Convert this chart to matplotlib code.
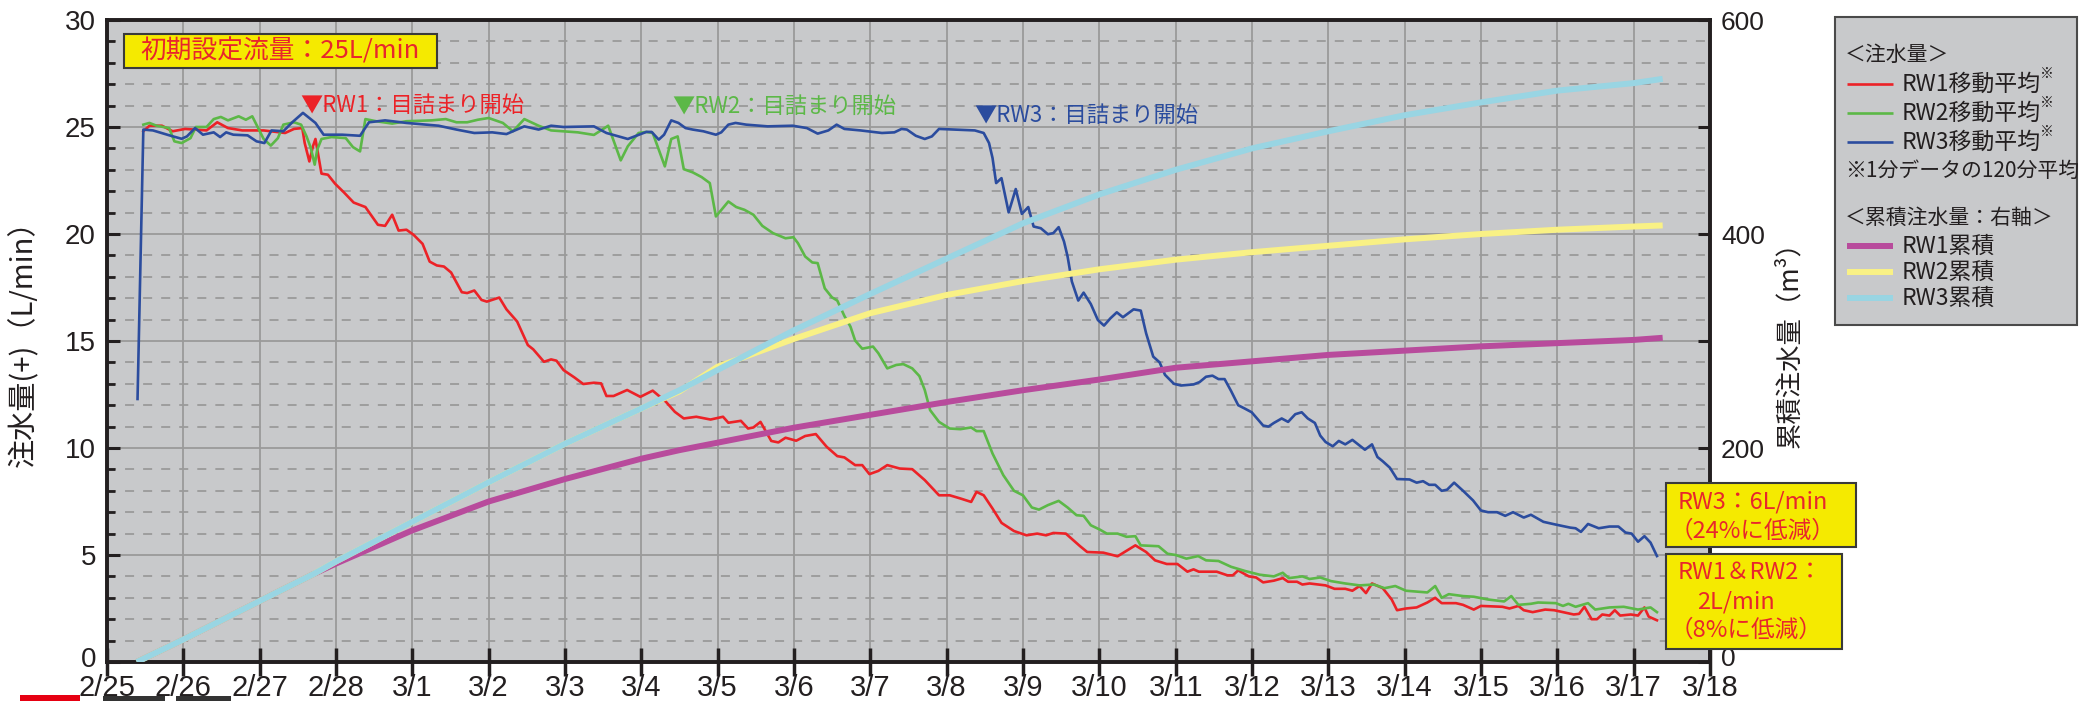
import matplotlib
matplotlib.use('Agg')
import matplotlib.pyplot as plt
import matplotlib.transforms as mtransforms
from matplotlib.patches import Rectangle
from matplotlib.lines import Line2D

plt.rcParams['font.family'] = ['Noto Sans CJK JP', 'DejaVu Sans']

# x = days since 2/25 00:00
date_labels = ['2/25', '2/26', '2/27', '2/28', '3/1', '3/2', '3/3', '3/4', '3/5', '3/6', '3/7',
               '3/8', '3/9', '3/10', '3/11', '3/12', '3/13', '3/14', '3/15', '3/16', '3/17', '3/18']

# moving average flow (L/min)
rw1_day = [0.476, 0.556, 0.719, 0.860, 1.023, 1.304, 1.444, 1.585, 1.772, 2.052, 2.333, 2.450, 2.558, 2.590,
           2.651, 2.698, 2.731, 2.763, 2.810, 2.894, 2.988, 3.105, 3.231, 3.385, 3.549, 3.643, 3.736, 3.820,
           3.923, 4.017, 4.134, 4.227, 4.321, 4.414, 4.508, 4.648, 4.718, 4.812, 4.906, 4.976, 5.139, 5.233,
           5.373, 5.513, 5.584, 5.724, 5.818, 5.888, 5.981, 6.122, 6.239, 6.379, 6.473, 6.543, 6.636, 6.814,
           6.987, 7.149, 7.322, 7.439, 7.556, 7.720, 7.907, 8.070, 8.140, 8.304, 8.398, 8.468, 8.561, 8.702,
           8.795, 8.889, 9.029, 9.146, 9.286, 9.427, 9.567, 9.660, 9.801, 9.894, 9.988, 10.105, 10.222, 10.386,
           10.549, 10.713, 10.900, 11.040, 11.181, 11.321, 11.391, 11.485, 11.601, 11.719, 11.882, 12.046,
           12.186, 12.303, 12.397, 12.561, 12.748, 12.841, 13.052, 13.239, 13.472, 13.613, 13.730, 13.883,
           14.023, 14.154, 14.234, 14.304, 14.538, 14.678, 14.748, 14.819, 14.959, 15.053, 15.146, 15.286,
           15.403, 15.473, 15.590, 15.660, 15.754, 15.964, 16.081, 16.222, 16.315, 16.409, 16.493, 16.572,
           16.713, 16.830, 16.900, 17.017, 17.157, 17.297, 17.400, 17.485, 17.672, 17.765, 17.905, 17.999,
           18.280, 18.373, 18.490, 18.560, 18.677, 18.841, 18.958, 19.215, 19.285, 19.355, 19.449, 19.519,
           19.589, 19.683, 19.753, 19.823, 19.963, 20.057, 20.141, 20.197, 20.305]
rw1_flow = [24.8, 25.06, 25.06, 24.80, 24.91, 24.84, 25.22, 24.95, 24.84, 24.84, 24.72, 24.91, 24.95, 24.25,
            23.39, 24.10, 24.44, 23.78, 22.82, 22.77, 22.35, 21.94, 21.47, 21.26, 20.43, 20.38, 20.90, 20.16,
            20.20, 19.96, 19.54, 18.71, 18.53, 18.48, 18.20, 17.28, 17.24, 17.36, 16.92, 16.84, 17.03, 16.48,
            15.91, 14.81, 14.61, 14.03, 14.14, 14.08, 13.64, 13.30, 12.99, 13.05, 13.02, 12.43, 12.43, 12.71,
            12.39, 12.68, 12.16, 11.69, 11.38, 11.46, 11.33, 11.46, 11.18, 11.27, 10.91, 10.96, 11.22, 10.33,
            10.26, 10.48, 10.34, 10.56, 10.65, 10.06, 9.62, 9.56, 9.20, 9.20, 8.78, 8.93, 9.20, 9.04,
            9.01, 8.50, 7.79, 7.79, 7.64, 7.48, 7.95, 7.79, 7.17, 6.50, 6.12, 5.92,
            6.00, 5.92, 6.03, 6.00, 5.41, 5.14, 5.11, 4.94, 5.45, 5.14, 4.75, 4.58,
            4.58, 4.22, 4.33, 4.22, 4.22, 4.05, 4.05, 4.28, 4.00, 3.95, 3.72, 3.80,
            3.92, 3.75, 3.75, 3.62, 3.67, 3.58, 3.42, 3.42, 3.33, 3.55, 3.22, 3.67,
            3.45, 2.92, 2.42, 2.50, 2.55, 2.78, 3.00, 2.75, 2.75, 2.67, 2.45, 2.62,
            2.58, 2.50, 2.62, 2.42, 2.33, 2.45, 2.42, 2.22, 2.25, 2.58, 2.00, 2.00,
            2.22, 2.17, 2.42, 2.17, 2.22, 2.17, 2.55, 2.12, 1.95]

rw2_day = [0.476, 0.556, 0.649, 0.813, 0.883, 0.977, 1.094, 1.164, 1.304, 1.398, 1.491, 1.585, 1.725, 1.819,
           1.903, 2.052, 2.146, 2.239, 2.310, 2.450, 2.543, 2.614, 2.670, 2.721, 2.754, 2.810, 2.941, 3.128,
           3.222, 3.315, 3.385, 3.525, 3.736, 3.923, 4.251, 4.438, 4.578, 4.718, 4.859, 4.999, 5.186, 5.317,
           5.467, 5.654, 5.818, 5.981, 6.168, 6.379, 6.566, 6.730, 6.823, 6.964, 7.065, 7.149, 7.308, 7.392,
           7.476, 7.556, 7.673, 7.790, 7.897, 7.977, 8.140, 8.243, 8.351, 8.468, 8.585, 8.725, 8.889, 8.992,
           9.052, 9.146, 9.240, 9.310, 9.403, 9.497, 9.567, 9.660, 9.740, 9.801, 9.894, 10.035, 10.105, 10.222,
           10.339, 10.432, 10.549, 10.643, 10.713, 10.783, 10.900, 11.040, 11.181, 11.321, 11.391, 11.485,
           11.601, 11.742, 11.882, 11.999, 12.116, 12.209, 12.326, 12.467, 12.584, 12.701, 12.794, 12.888,
           13.005, 13.098, 13.239, 13.356, 13.472, 13.542, 13.776, 13.893, 14.000, 14.140, 14.295, 14.398,
           14.561, 14.725, 14.912, 15.099, 15.286, 15.403, 15.483, 15.660, 15.754, 15.894, 16.035, 16.222,
           16.409, 16.596, 16.736, 16.877, 17.017, 17.297, 17.400, 17.485, 17.578, 17.765, 17.905, 18.093,
           18.303, 18.397, 18.490, 18.654, 18.748, 18.981, 19.074, 19.145, 19.239, 19.402, 19.496, 19.683,
           19.870, 20.057, 20.221, 20.305]
rw2_flow = [25.11, 25.19, 25.06, 24.95, 24.33, 24.25, 24.48, 25.00, 25.00, 25.37, 25.47, 25.31, 25.50, 25.34,
            25.50, 24.44, 24.13, 24.48, 25.11, 25.22, 25.11, 24.56, 24.02, 23.24, 23.94, 24.44, 24.53, 24.48,
            24.06, 23.86, 25.37, 25.27, 25.16, 25.27, 25.31, 25.37, 25.22, 25.22, 25.34, 25.42, 25.19, 24.80,
            25.37, 25.06, 24.84, 24.80, 24.75, 24.63, 25.06, 23.44, 24.10, 24.72, 24.77, 24.72, 23.16, 24.44,
            24.56, 23.03, 22.88, 22.66, 22.38, 20.82, 21.52, 21.26, 21.13, 20.90, 20.38, 20.04, 19.80, 19.85,
            19.57, 18.95, 18.67, 18.64, 17.46, 17.04, 16.89, 16.17, 15.67, 15.02, 14.64, 14.74, 14.43, 13.72,
            13.88, 13.92, 13.72, 13.36, 12.71, 11.77, 11.22, 10.91, 10.88, 10.96, 10.79, 10.79,
            9.74, 8.73, 8.00, 7.79, 7.22, 7.12, 7.33, 7.53, 7.22, 6.86, 6.83, 6.39,
            6.19, 6.00, 6.00, 5.85, 5.88, 5.45, 5.41, 5.06, 5.00, 4.83, 4.95, 4.75,
            4.72, 4.45, 4.25, 4.08, 4.00, 4.17, 3.92, 4.00, 3.88, 3.95, 3.78, 3.67,
            3.58, 3.62, 3.45, 3.55, 3.33, 3.25, 3.55, 3.00, 3.17, 3.08, 3.05, 2.92,
            2.83, 3.08, 2.67, 2.72, 2.78, 2.75, 2.62, 2.72, 2.58, 2.75, 2.45, 2.55,
            2.58, 2.45, 2.55, 2.33]

rw3_day = [0.400, 0.476, 0.602, 0.836, 0.977, 1.047, 1.154, 1.257, 1.398, 1.482, 1.561, 1.655, 1.842, 1.959,
           2.062, 2.155, 2.310, 2.427, 2.567, 2.731, 2.838, 3.081, 3.315, 3.432, 3.643, 3.923, 4.344, 4.578,
           4.812, 5.046, 5.233, 5.467, 5.654, 5.818, 5.981, 6.379, 6.543, 6.823, 6.971, 7.065, 7.135, 7.228,
           7.298, 7.392, 7.486, 7.579, 7.673, 7.813, 7.977, 8.047, 8.140, 8.234, 8.374, 8.655, 8.982, 9.169,
           9.310, 9.450, 9.558, 9.660, 9.871, 10.152, 10.315, 10.409, 10.479, 10.596, 10.713, 10.806, 10.900,
           11.087, 11.368, 11.485, 11.555, 11.601, 11.648, 11.718, 11.812, 11.905, 11.985, 12.069, 12.139,
           12.233, 12.326, 12.397, 12.467, 12.537, 12.584, 12.640, 12.724, 12.794, 12.888, 12.981, 13.061,
           13.145, 13.229, 13.309, 13.449, 13.543, 13.613, 13.706, 13.790, 13.860, 13.977, 14.070, 14.234,
           14.313, 14.398, 14.482, 14.561, 14.641, 14.725, 14.819, 14.912, 14.996, 15.146, 15.216, 15.286,
           15.389, 15.473, 15.567, 15.651, 15.731, 15.824, 15.894, 15.964, 16.058, 16.137, 16.222, 16.315,
           16.479, 16.572, 16.643, 16.713, 16.806, 16.900, 17.064, 17.157, 17.241, 17.321, 17.400, 17.485,
           17.555, 17.648, 17.765, 17.896, 17.999, 18.093, 18.210, 18.317, 18.420, 18.560, 18.654, 18.818,
           18.981, 19.168, 19.239, 19.309, 19.402, 19.542, 19.683, 19.800, 19.893, 19.973, 20.057, 20.141,
           20.221, 20.305]
rw3_flow = [12.29, 24.88, 24.84, 24.59, 24.45, 24.56, 24.95, 24.64, 24.75, 24.53, 24.75, 24.64, 24.61, 24.33,
            24.25, 24.84, 24.80, 25.22, 25.66, 25.19, 24.64, 24.64, 24.59, 25.22, 25.31, 25.19, 25.06, 24.88,
            24.72, 24.75, 24.67, 25.03, 24.88, 25.06, 25.00, 25.03, 24.72, 24.44, 24.64, 24.77, 24.77, 24.41,
            24.64, 25.31, 25.19, 24.95, 24.88, 24.80, 24.64, 24.75, 25.11, 25.19, 25.11, 25.03, 25.06, 24.95,
            24.69, 24.84, 25.11, 24.91, 24.84, 24.72, 24.75, 24.91, 24.88, 24.59, 24.44, 24.56, 24.91,
            24.88, 24.84, 24.72, 24.25, 23.55, 22.38, 22.61, 21.01, 22.10, 20.94, 21.26, 20.35,
            20.27, 19.99, 20.04, 20.32, 19.65, 18.95, 17.78, 16.89, 17.26, 16.73, 15.98, 15.72,
            16.06, 16.34, 16.11, 16.48, 16.42, 15.36, 14.27, 14.00, 13.42, 13.00, 12.92, 12.97,
            13.08, 13.33, 13.38, 13.22, 13.22, 12.67, 12.00, 11.83, 11.67, 11.05, 11.00, 11.17,
            11.38, 11.22, 11.58, 11.67, 11.38, 11.17, 10.58, 10.28, 10.08, 10.33, 10.17, 10.38,
            9.92, 10.17, 9.58, 9.38, 9.08, 8.55, 8.53, 8.38, 8.45, 8.28, 8.28, 8.00,
            8.05, 8.38, 8.00, 7.55, 7.08, 7.00, 7.00, 6.83, 7.00, 6.75, 6.88, 6.55,
            6.42, 6.28, 6.25, 6.08, 6.45, 6.25, 6.33, 6.33, 6.05, 6.00, 5.62, 5.88,
            5.58, 4.95]

# cumulative injection (m3), right axis
cum_day = [0.39, 1.0, 2.0, 2.7, 3.0, 4.0, 5.0, 6.0, 7.0, 7.5, 8.0, 9.0, 10.0, 11.0, 12.0,
           13.0, 14.0, 15.0, 16.0, 17.0, 18.0, 19.0, 20.0, 20.38]
rw1_cum = [0, 21, 57, 82, 92, 123, 150, 171, 190, 198, 205, 219, 231, 243, 254,
           264, 275, 281, 287, 291, 295, 298, 301, 303]
rw2_cum = [0, 21, 57, 82, 94, 131, 168, 204, 237, 253, 276, 302, 326, 343, 356,
           367, 376, 383, 389, 395, 400, 404, 407, 408]
rw3_cum = [0, 21, 57, 82, 94, 131, 168, 204, 237, 254, 273, 310, 344, 377, 410,
           437, 460, 480, 496, 511, 523, 534, 541, 545]

left_ticks = [0, 5, 10, 15, 20, 25, 30]
right_ticks = [0, 100, 200, 300, 400, 500, 600]
right_labels = ['0', '', '200', '', '400', '', '600']

RED = '#ec2227'
GREEN = '#5cb847'
BLUE = '#2b4c9e'
MAGENTA = '#b84b9c'
YELLOW = '#f9f185'
CYAN = '#99d5e3'
BG = '#c8c9cb'
GRIDC = '#9a9a9a'
DARK = '#231f20'
BOXY = '#f5ea00'
TXTR = '#e8262c'

W, H = 2087, 701
fig = plt.figure(figsize=(W / 100, H / 100), dpi=100)
ax = fig.add_axes([107 / W, 1 - 662 / H, (1710 - 107) / W, (662 - 20) / H])
ax.set_facecolor(BG)
ax2 = ax.twinx()


def px(x, y):
    return x / W, 1 - y / H


ax.plot(rw1_day, rw1_flow, color=RED, lw=1.9, zorder=3)
ax.plot(rw2_day, rw2_flow, color=GREEN, lw=1.9, zorder=3)
ax.plot(rw3_day, rw3_flow, color=BLUE, lw=1.9, zorder=4)

ax2.plot(cum_day, rw1_cum, color=MAGENTA, lw=4.3, zorder=2, solid_capstyle='butt')
ax2.plot(cum_day, rw2_cum, color=YELLOW, lw=4.3, zorder=3, solid_capstyle='butt')
ax2.plot(cum_day, rw3_cum, color=CYAN, lw=4.3, zorder=4, solid_capstyle='butt')

ax.set_xlim(0, 21)
ax.set_ylim(0, 30)
ax2.set_ylim(0, 600)

ax.set_xticks(range(len(date_labels)))
ax.set_xticklabels(date_labels)
ax.set_yticks(left_ticks)
ax.set_yticks(range(31), minor=True)
ax2.set_yticks(right_ticks)
ax2.set_yticklabels(right_labels)

ax.set_axisbelow(True)
ax.grid(axis='x', which='major', color=GRIDC, lw=1.3)
ax.grid(axis='y', which='major', color=GRIDC, lw=1.3)
ax.grid(axis='y', which='minor', color=GRIDC, lw=1.3, ls=(0, (5, 5)))

narrow = ['Liberation Sans Narrow', 'DejaVu Sans Condensed', 'Liberation Sans']
ax.tick_params(axis='x', direction='inout', length=20, width=2.5, color=DARK, pad=-1,
               labelsize=21, labelcolor=DARK)
ax.tick_params(axis='y', which='major', direction='in', length=9, width=2.2, color=DARK,
               labelsize=20, pad=8, labelcolor=DARK)
ax.tick_params(axis='y', which='minor', direction='in', length=6, width=2.0, color=DARK)
ax2.tick_params(axis='y', which='major', direction='in', length=9, width=2.2, color=DARK,
                labelsize=19, pad=8, labelcolor=DARK)
for lbl in ax.get_xticklabels():
    lbl.set_fontfamily(narrow)
for lbl in ax.get_yticklabels() + ax2.get_yticklabels():
    lbl.set_fontfamily(['Liberation Sans', 'DejaVu Sans'])

# nudge the two "0" labels up a little so they clear the date labels
lift = mtransforms.ScaledTranslation(0, 5 / 100, fig.dpi_scale_trans)
zl = ax.yaxis.get_major_ticks()[0].label1
zl.set_transform(zl.get_transform() + lift)
zr = ax2.yaxis.get_major_ticks()[0].label2
zr.set_transform(zr.get_transform() + lift)

for a in (ax, ax2):
    for s in a.spines.values():
        s.set_linewidth(2.6)
        s.set_color(DARK)

# axis titles
fig.text(*px(24, 336), '注水量(+)（L/min）', rotation=90, ha='center', va='center',
         fontsize=21, color=DARK)
fig.text(*px(1790, 338), '累積注水量（m³）', rotation=90, ha='center', va='center',
         fontsize=19, color=DARK)

# clogging markers
ax.text(2.53, 26.0, '▼RW1：目詰まり開始', color=RED, fontsize=16, va='center', ha='left', zorder=6)
ax.text(7.41, 25.95, '▼RW2：目詰まり開始', color=GREEN, fontsize=16, va='center', ha='left', zorder=6)
ax.text(11.36, 25.56, '▼RW3：目詰まり開始', color=BLUE, fontsize=16, va='center', ha='left', zorder=6)


def box(x0, y0, x1, y1, face, edge='#3a3a3a', lw=1.5):
    fx, fy = px(x0, y1)
    fig.patches.append(Rectangle((fx, fy), (x1 - x0) / W, (y1 - y0) / H, transform=fig.transFigure,
                                 facecolor=face, edgecolor=edge, lw=lw, zorder=5))


# initial setting box
box(124, 34, 437, 68, BOXY)
fig.text(*px(280, 51), '初期設定流量：25L/min', color=TXTR, fontsize=18.5, ha='center', va='center',
         zorder=6)

# reduced flow boxes
box(1666, 483, 1856, 547, BOXY)
fig.text(*px(1678, 502), 'RW3：6L/min', color=TXTR, fontsize=17, ha='left', va='center', zorder=6)
fig.text(*px(1670, 531), '（24%に低減）', color=TXTR, fontsize=17, ha='left', va='center', zorder=6)
box(1666, 554, 1842, 649, BOXY)
fig.text(*px(1678, 572), 'RW1＆RW2：', color=TXTR, fontsize=17, ha='left', va='center', zorder=6)
fig.text(*px(1697, 602), '2L/min', color=TXTR, fontsize=17, ha='left', va='center', zorder=6)
fig.text(*px(1670, 630), '（8%に低減）', color=TXTR, fontsize=17, ha='left', va='center', zorder=6)

# legend panel
box(1835, 17, 2077, 325, BG, edge='#4a4a4a', lw=1.5)
leg_rows = [
    ('＜注水量＞', None, 55, False),
    ('RW1移動平均', RED, 84, True),
    ('RW2移動平均', GREEN, 113, True),
    ('RW3移動平均', BLUE, 142, True),
    ('※1分データの120分平均', None, 171, False),
    ('＜累積注水量：右軸＞', None, 218, False),
    ('RW1累積', MAGENTA, 246, False),
    ('RW2累積', YELLOW, 272, False),
    ('RW3累積', CYAN, 298, False),
]
for text, col, yy, note in leg_rows:
    if col is None:
        fig.text(*px(1845, yy), text, fontsize=15, ha='left', va='center', color=DARK, zorder=6)
        continue
    lw = 1.9 if col in (RED, GREEN, BLUE) else 4.3
    x0, y0 = px(1847, yy)
    x1, _ = px(1893, yy)
    fig.add_artist(Line2D([x0, x1], [y0, y0], color=col, lw=lw, transform=fig.transFigure,
                          solid_capstyle='butt', zorder=6))
    fig.text(*px(1902, yy), text, fontsize=16.5, ha='left', va='center', color=DARK, zorder=6)
    if note:
        fig.text(*px(2040, yy - 10), '※', fontsize=10, ha='left', va='center', color=DARK, zorder=6)

# cut-off fragment at the lower-left edge
fig.patches.append(Rectangle(px(20, 701), 60 / W, 6 / H, transform=fig.transFigure,
                             facecolor='#e60012', edgecolor='none'))
for xa, xb in ((103, 165), (176, 231)):
    fig.patches.append(Rectangle(px(xa, 701), (xb - xa) / W, 5 / H, transform=fig.transFigure,
                                 facecolor='#333333', edgecolor='none'))

fig.savefig('out.png', dpi=100)
